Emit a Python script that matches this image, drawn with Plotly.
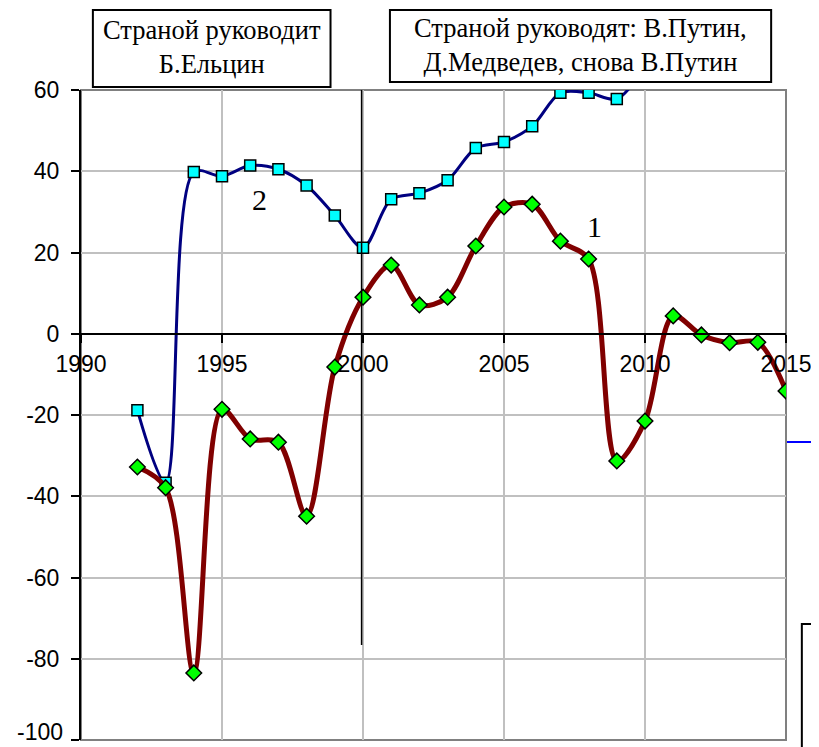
import plotly.graph_objects as go

years1 = [1992, 1993, 1994, 1995, 1996, 1997, 1998, 1999, 2000, 2001, 2002, 2003,
          2004, 2005, 2006, 2007, 2008, 2009, 2010, 2011, 2012, 2013, 2014, 2015]
series1 = [-32.8, -37.9, -83.5, -18.6, -25.9, -26.7, -44.9, -8.2, 9.0, 16.9, 7.1, 9.0,
           21.6, 31.2, 31.9, 22.8, 18.4, -31.3, -21.5, 4.4, -0.3, -2.2, -2.1, -14.1]

years2 = [1992, 1993, 1994, 1995, 1996, 1997, 1998, 1999, 2000, 2001, 2002, 2003,
          2004, 2005, 2006, 2007, 2008, 2009, 2010]
series2 = [-18.8, -36.7, 39.8, 38.8, 41.4, 40.5, 36.5, 29.1, 21.2, 33.1, 34.6, 37.8,
           45.7, 47.2, 51.1, 59.3, 59.3, 57.8, 66.0]

x_ticks = [1990, 1995, 2000, 2005, 2010, 2015]
y_ticks = [-100, -80, -60, -40, -20, 0, 20, 40, 60]

box1_text = "Страной руководит<br>Б.Ельцин"
box2_text = "Страной руководят: В.Путин,<br>Д.Медведев, снова В.Путин"

# window size and page offset (browser body margin)
WIN_W, WIN_H = 819, 747
OFF = 8
# plot area in window pixels
L, R, T, B = 81, 793, 90, 740


def px(xp):
    return (xp - L) / (R - L)


def py(yp):
    return (B - yp) / (B - T)


fig = go.Figure()

fig.add_trace(go.Scatter(
    x=years2, y=series2, mode="lines+markers",
    line=dict(color="#000080", width=3, shape="spline", smoothing=0.9),
    marker=dict(symbol="square", size=11, color="#00FFFF",
                line=dict(color="black", width=1.5)),
    showlegend=False))

fig.add_trace(go.Scatter(
    x=years1, y=series1, mode="lines+markers",
    line=dict(color="#800000", width=5, shape="spline", smoothing=0.9),
    marker=dict(symbol="diamond", size=12, color="#00FF00",
                line=dict(color="black", width=1.5)),
    showlegend=False))

shapes = [
    dict(type="rect", xref="paper", yref="paper", x0=0, x1=1, y0=0, y1=1,
         line=dict(color="#808080", width=2), layer="below"),
    dict(type="line", xref="x", yref="y", x0=1999.95, x1=1999.95, y0=60.5, y1=-76.6,
         line=dict(color="black", width=1.5)),
    dict(type="rect", xref="paper", yref="paper", x0=px(93), x1=px(333),
         y0=py(87), y1=py(10), fillcolor="white", line=dict(color="black", width=2)),
    dict(type="rect", xref="paper", yref="paper", x0=px(393), x1=px(778),
         y0=py(82), y1=py(10), fillcolor="white", line=dict(color="black", width=2)),
    dict(type="line", xref="paper", yref="paper", x0=px(794), x1=px(822),
         y0=py(442), y1=py(442), line=dict(color="#0000FF", width=2)),
    dict(type="path", xref="paper", yref="paper",
         path=f"M {px(809)} {py(760)} L {px(809)} {py(624)} L {px(830)} {py(624)}",
         line=dict(color="black", width=2)),
]

annotations = [
    dict(xref="paper", yref="paper", x=px(213), y=py(47), text=box1_text,
         showarrow=False, font=dict(family="Liberation Serif", size=26.5, color="black"),
         align="center", xanchor="center", yanchor="middle"),
    dict(xref="paper", yref="paper", x=px(585), y=py(45), text=box2_text,
         showarrow=False, font=dict(family="Liberation Serif", size=26.5, color="black"),
         align="center", xanchor="center", yanchor="middle"),
    dict(xref="paper", yref="paper", x=px(600), y=py(226), text="1",
         showarrow=False, xanchor="center", yanchor="middle",
         font=dict(family="Liberation Serif", size=30, color="black")),
    dict(xref="paper", yref="paper", x=px(261), y=py(200), text="2",
         showarrow=False, xanchor="center", yanchor="middle",
         font=dict(family="Liberation Serif", size=30, color="black")),
    # lowest y tick label, kept inside the page
    dict(xref="paper", yref="paper", x=px(64), y=py(746), text=str(y_ticks[0]),
         showarrow=False, xanchor="right", yanchor="bottom", borderpad=0,
         font=dict(family="Liberation Sans", size=23, color="black")),
]

fig.update_layout(
    width=WIN_W - OFF, height=WIN_H - OFF,
    margin=dict(l=L - OFF, r=WIN_W - R, t=T - OFF, b=WIN_H - B, pad=0),
    paper_bgcolor="white", plot_bgcolor="white",
    shapes=shapes, annotations=annotations,
    font=dict(family="Liberation Sans", size=22, color="black"),
    xaxis=dict(range=[1990, 2015], tickvals=x_ticks, ticktext=[str(v) for v in x_ticks],
               anchor="free", position=100 / 160,
               showgrid=True, gridcolor="#C0C0C0", gridwidth=1.5,
               showline=True, linecolor="black", linewidth=2,
               ticks="outside", ticklen=8, tickcolor="black", tickwidth=1.5,
               zeroline=False, tickfont=dict(family="Liberation Sans", size=23),
               ticklabelstandoff=2),
    yaxis=dict(range=[-100, 60], tickvals=y_ticks,
               ticktext=[""] + [str(v) for v in y_ticks[1:]],
               showgrid=True, gridcolor="#C0C0C0", gridwidth=1.5,
               showline=True, linecolor="black", linewidth=2,
               ticks="outside", ticklen=8, tickcolor="black", tickwidth=1.5,
               zeroline=False, tickfont=dict(family="Liberation Sans", size=23),
               ticklabelstandoff=7),
)

fig.write_html("out.html")
